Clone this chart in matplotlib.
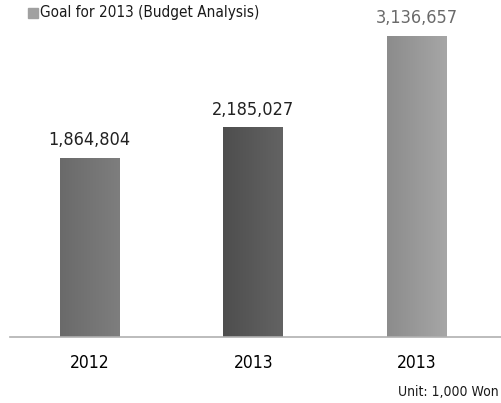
import matplotlib
matplotlib.use('Agg')
import matplotlib.pyplot as plt
from matplotlib import font_manager
import numpy as np

years = ['2012', '2013', '2013']
values = [1864804, 2185027, 3136657]
labels = ['1,864,804', '2,185,027', '3,136,657']
bar_colors = [('#6a6a6a', '#7e7e7e'), ('#4e4e4e', '#636363'), ('#8c8c8c', '#a6a6a6')]
label_colors = ['#222222', '#222222', '#6a6a6a']

names = sorted(set(f.name + ' | ' + str(f.stretch) for f in font_manager.fontManager.ttflist))
print(names)

fig = plt.figure(figsize=(5.01, 4.03), dpi=100)
ax = fig.add_axes([10 / 501, 1 - 337 / 403, 491 / 501, 337 / 403])

width = 0.366
x = np.arange(len(values))
for i in range(len(values)):
    c0, c1 = bar_colors[i]
    cmap = matplotlib.colors.LinearSegmentedColormap.from_list('g', [c0, c1])
    grad = np.linspace(0, 1, 64).reshape(1, -1)
    ax.imshow(grad, cmap=cmap, aspect='auto', interpolation='bicubic',
              extent=(x[i] - width / 2, x[i] + width / 2, 0, values[i]), zorder=2)
    ax.text(x[i], values[i] + 90000, labels[i], ha='center', va='bottom',
            fontsize=13, color=label_colors[i], family='DejaVu Sans', stretch='condensed')

ax.set_xlim(-0.4855, 2.513)
ax.set_ylim(0, values[2] * 337 / 301)

for s in ['top', 'right', 'left']:
    ax.spines[s].set_visible(False)
ax.spines['bottom'].set_color('#b0b0b0')
ax.spines['bottom'].set_linewidth(1.2)
ax.set_yticks([])
ax.set_xticks(x)
ax.set_xticklabels(years, fontsize=12.5, family='DejaVu Sans', stretch='condensed')
ax.tick_params(axis='x', length=0, pad=12)

# legend
fig.patches.append(plt.Rectangle((28 / 501, 1 - 18 / 403), 10 / 501, 10 / 403,
                                 transform=fig.transFigure, color='#a0a0a0'))
fig.text(40 / 501, 1 - 13 / 403, 'Goal for 2013 (Budget Analysis)', fontsize=11,
         va='center', ha='left', color='#1a1a1a', family='DejaVu Sans', stretch='condensed')

fig.text(499 / 501, 1 - 392 / 403, 'Unit: 1,000 Won', fontsize=10, ha='right',
         va='center', color='#1a1a1a', family='DejaVu Sans', stretch='condensed')

fig.savefig('out.png', dpi=100)
